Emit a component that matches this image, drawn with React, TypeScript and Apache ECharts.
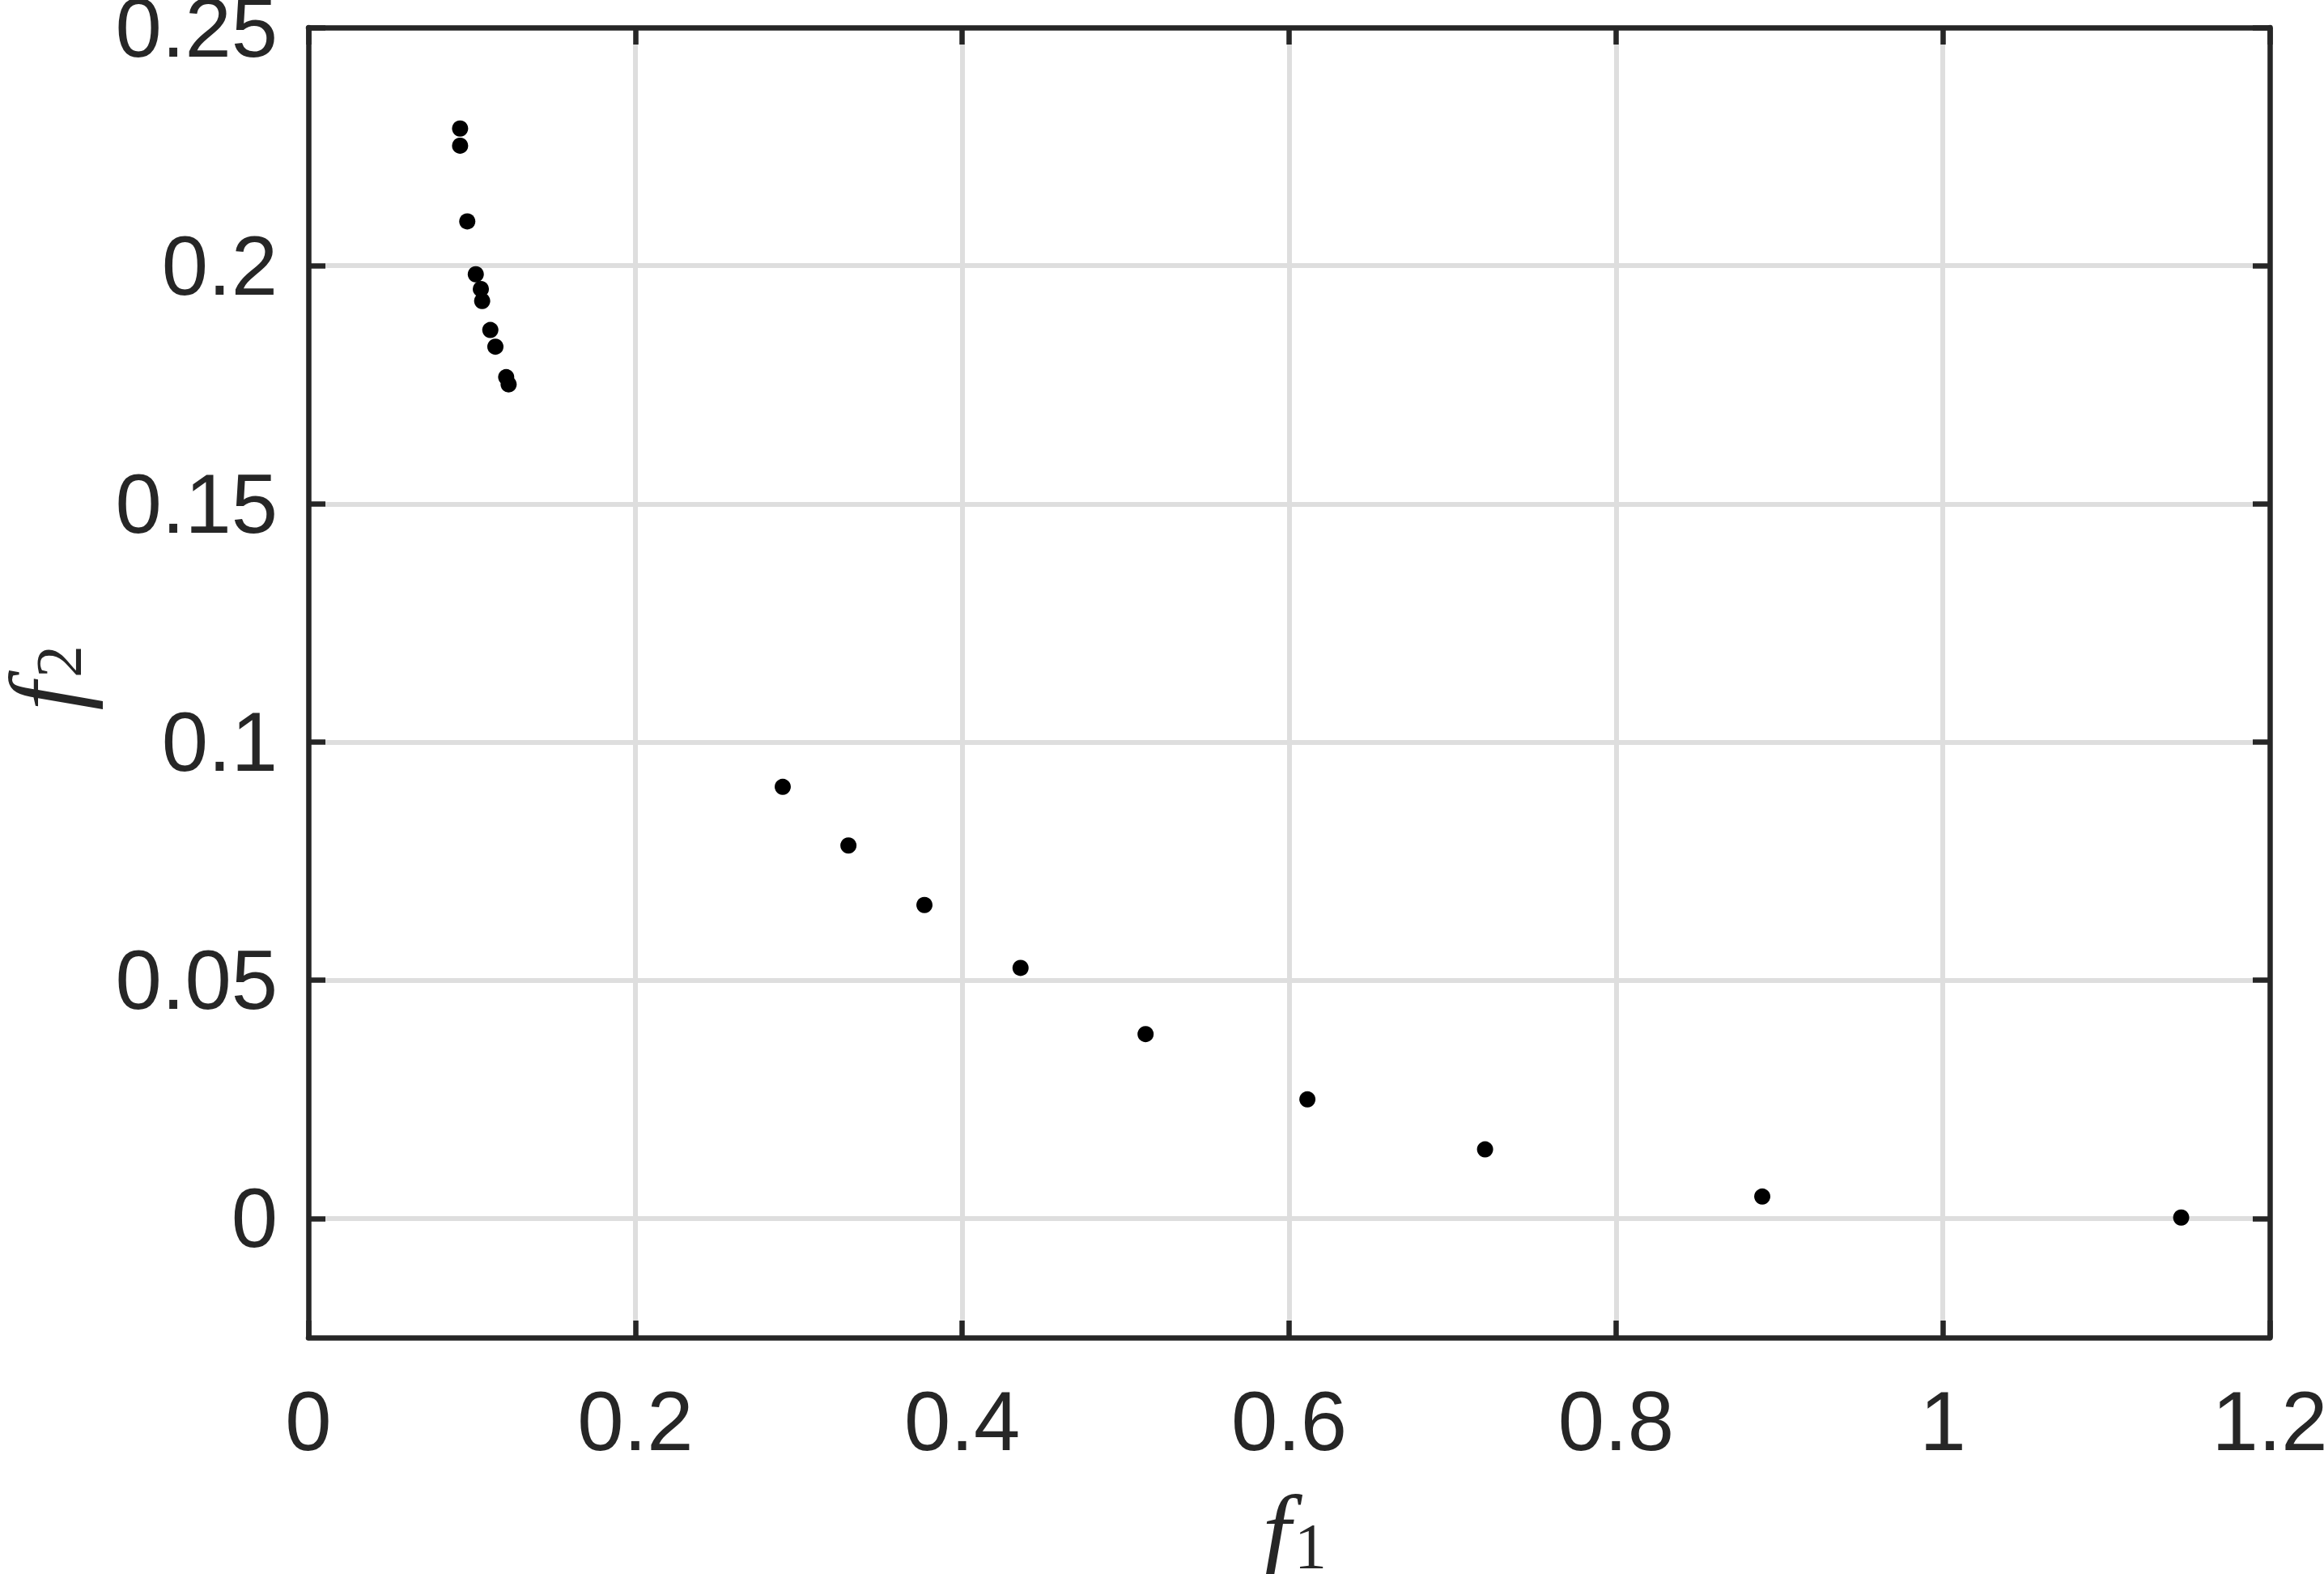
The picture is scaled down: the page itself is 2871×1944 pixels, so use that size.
import React, { useEffect, useRef } from "react";
import * as echarts from "echarts";

// Objective values
const f1Values = [0.0928, 0.0928, 0.0972, 0.1024, 0.1055, 0.1063, 0.1113, 0.1144, 0.121, 0.1225, 0.2902, 0.3304, 0.3769, 0.4357, 0.5122, 0.6112, 0.7199, 0.8895, 1.1458];
const f2Values = [0.2288, 0.2252, 0.2093, 0.1982, 0.1951, 0.1926, 0.1865, 0.183, 0.1766, 0.1751, 0.0906, 0.0783, 0.0658, 0.0526, 0.0387, 0.025, 0.0145, 0.0046, 0.0002];
const xTickValues = [0, 0.2, 0.4, 0.6, 0.8, 1, 1.2];
const yTickValues = [0, 0.05, 0.1, 0.15, 0.2, 0.25];
const xRange = [0, 1.2];
const yRange = [-0.025, 0.25];
const xName = ["f", "1"];
const yName = ["f", "2"];

const INK = "#262626";
const GRID = "#dedede";
const LABEL_FONT = "'Liberation Sans', Arial, Helvetica, sans-serif";
const MATH_FONT = "'Liberation Serif', 'DejaVu Serif', serif";

export default function App() {
  const ref = useRef<HTMLDivElement>(null);

  useEffect(() => {
    if (!ref.current) return;
    const chart = echarts.init(ref.current, undefined, { renderer: "svg" });
    const points = f1Values.map((x, i) => [x, f2Values[i]]);

    const tickCommon = {
      show: true,
      inside: true,
      length: 21,
      lineStyle: { color: INK, width: 6.5 },
    };
    const lineCommon = { show: true, lineStyle: { color: INK, width: 6.5 } };

    const mainStyle = { fontFamily: MATH_FONT, fontStyle: "italic", fontSize: 126, lineHeight: 90, fill: INK, align: "center", verticalAlign: "middle" };
    const subStyle = { fontFamily: MATH_FONT, fontSize: 80, lineHeight: 60, fill: INK, align: "center", verticalAlign: "middle" };

    chart.setOption({
      animation: false,
      backgroundColor: "#ffffff",
      grid: { left: 381, top: 34, width: 2423, height: 1618, containLabel: false, outerBoundsMode: "none" },
      graphic: [
        { type: "text", x: 1577, y: 1892, style: { ...mainStyle, text: xName[0] } },
        { type: "text", x: 1619, y: 1910, style: { ...subStyle, text: xName[1] } },
        { type: "text", x: 57, y: 860, rotation: Math.PI / 2, style: { ...mainStyle, text: yName[0] } },
        { type: "text", x: 73, y: 817, rotation: Math.PI / 2, style: { ...subStyle, text: yName[1] } },
      ],
      xAxis: [
        {
          type: "value",
          position: "bottom",
          min: xRange[0],
          max: xRange[1],
          interval: 0.2,
          axisLine: { ...lineCommon, onZero: false },
          axisTick: { ...tickCommon, customValues: xTickValues },
          axisLabel: {
            customValues: xTickValues,
            fontFamily: LABEL_FONT,
            fontSize: 103,
            color: INK,
            margin: 52,
          },
          splitLine: { show: true, lineStyle: { color: GRID, width: 6 } },
        },
        {
          type: "value",
          position: "top",
          min: xRange[0],
          max: xRange[1],
          interval: 0.2,
          axisLine: { ...lineCommon, onZero: false },
          axisTick: { ...tickCommon, customValues: xTickValues },
          axisLabel: { show: false },
          splitLine: { show: false },
        },
      ],
      yAxis: [
        {
          type: "value",
          position: "left",
          min: yRange[0],
          max: yRange[1],
          interval: 0.025,
          axisLine: { ...lineCommon, onZero: false },
          axisTick: { ...tickCommon, customValues: yTickValues },
          axisLabel: {
            customValues: yTickValues,
            fontFamily: LABEL_FONT,
            fontSize: 103,
            lineHeight: 64,
            color: INK,
            margin: 38,
          },
          splitLine: { show: true, lineStyle: { color: GRID, width: 6 } },
        },
        {
          type: "value",
          position: "right",
          min: yRange[0],
          max: yRange[1],
          interval: 0.025,
          axisLine: { ...lineCommon, onZero: false },
          axisTick: { ...tickCommon, customValues: yTickValues },
          axisLabel: { show: false },
          splitLine: { show: false },
        },
      ],
      series: [
        {
          type: "scatter",
          xAxisIndex: 0,
          yAxisIndex: 0,
          data: points,
          symbol: "circle",
          symbolSize: 20,
          itemStyle: { color: "#000000", opacity: 1 },
          z: 3,
        },
      ],
    });

    return () => chart.dispose();
  }, []);

  return (
    <div
      ref={ref}
      style={{ position: "fixed", left: 0, top: 0, width: 2871, height: 1944, background: "#fff" }}
    />
  );
}
